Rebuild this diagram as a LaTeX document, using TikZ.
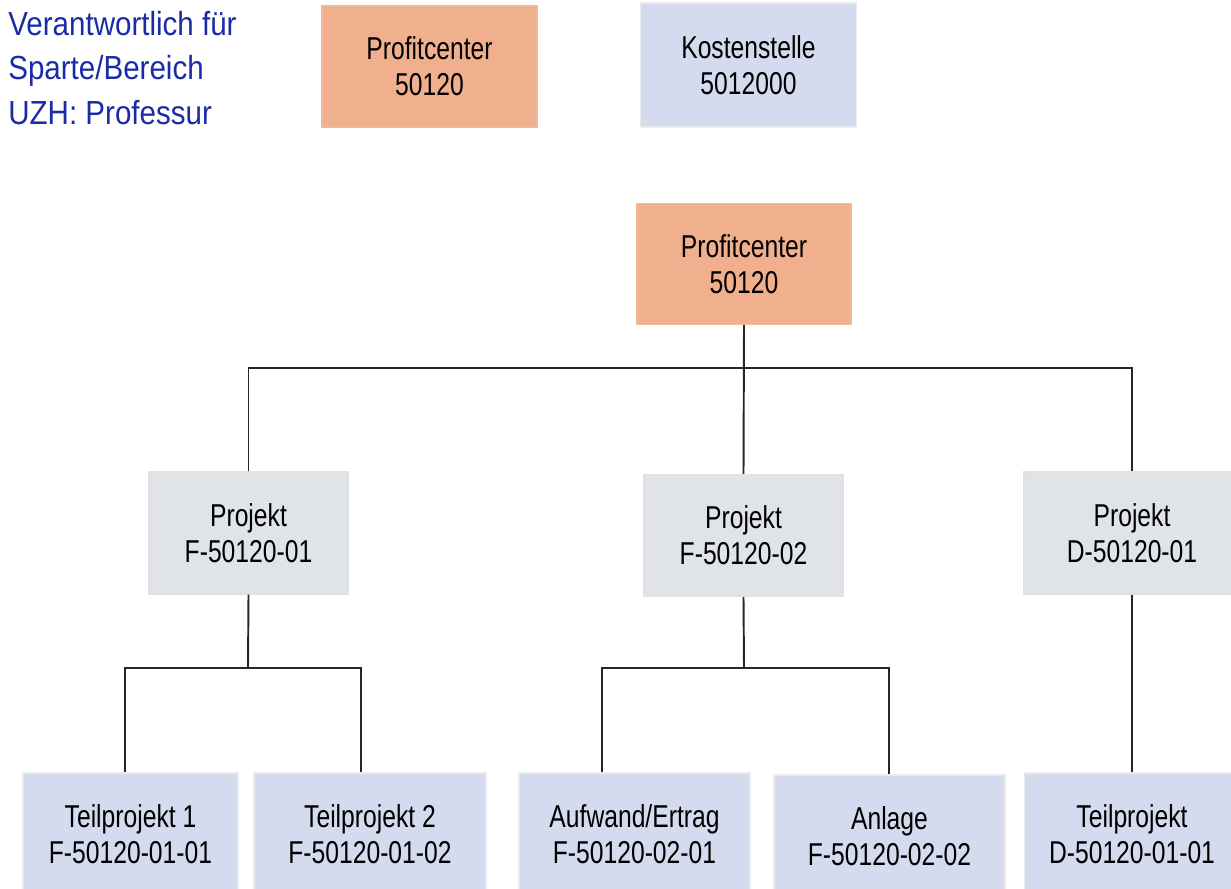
\documentclass[tikz,border=0pt]{standalone}
\usepackage{fontspec}
\setmainfont{Liberation Sans}
\newfontfamily\boxfont[FakeStretch=0.78]{Liberation Sans}
\newfontfamily\notefont[FakeStretch=0.885]{Liberation Sans}
\usepackage{tikz}

\definecolor{pcorange}{HTML}{F0AF8D}
\definecolor{kstblue}{HTML}{D5DBEE}
\definecolor{projgray}{HTML}{E0E3E8}
\definecolor{noteblue}{HTML}{1A2BA6}

\tikzset{
	box/.style={shape=rectangle, draw=black!8, line width=0.8pt, inner sep=0pt,
		minimum height=2.44cm, align=center,
		font=\boxfont\fontsize{18pt}{20.6pt}\selectfont},
	pcbox/.style={box, fill=pcorange, draw=pcorange!90!white},
	kstbox/.style={box, fill=kstblue},
	projbox/.style={box, fill=projgray, draw=black!12},
	link/.style={draw=black!85, line width=1.1pt}
}

\begin{document}
\begin{tikzpicture}[x=0.02cm, y=-0.02cm]
	\useasboundingbox (0,0) rectangle (1231,889);
	\clip (0,0) rectangle (1231,889);

	% legend
	\node[anchor=west, inner sep=0pt, align=left, text=noteblue,
		font=\notefont\fontsize{19pt}{25.5pt}\selectfont] (note) at (8,68)
		{Verantwortlich für\\Sparte/Bereich\\UZH: Professur};
	\node[pcbox, minimum width=4.3cm, minimum height=2.42cm] (pctop) at (429.5,66.5) {Profitcenter\\50120};
	\node[kstbox, minimum width=4.32cm, minimum height=2.48cm] (kst) at (748.5,65) {Kostenstelle\\5012000};

	% hierarchy
	\node[pcbox, minimum width=4.28cm, minimum height=2.42cm] (pc) at (744,264) {Profitcenter\\50120};

	\node[projbox, minimum width=3.98cm] (p1) at (248.5,533)   {Projekt\\F-50120-01};
	\node[projbox, minimum width=3.98cm] (p2) at (743.5,535.5) {Projekt\\F-50120-02};
	\node[projbox, minimum width=4.32cm] (p3) at (1132,533)    {Projekt\\D-50120-01};

	\node[kstbox, minimum width=4.3cm]  (t1) at (130.5,834) {Teilprojekt 1\\F-50120-01-01};
	\node[kstbox, minimum width=4.64cm] (t2) at (370,834)   {Teilprojekt 2\\F-50120-01-02};
	\node[kstbox, minimum width=4.62cm] (t3) at (634.5,834) {Aufwand/Ertrag\\F-50120-02-01};
	\node[kstbox, minimum width=4.62cm] (t4) at (889.5,836) {Anlage\\F-50120-02-02};
	\node[kstbox, minimum width=4.3cm]  (t5) at (1132,834)  {Teilprojekt\\D-50120-01-01};

	\coordinate (j0) at (744,368);
	\coordinate (j1) at (248,668);
	\coordinate (a1) at (125,668);
	\coordinate (a2) at (361,668);
	\coordinate (j2) at (744,668);
	\coordinate (b1) at (602,668);
	\coordinate (b2) at (889,668);

	\path[link] (pc.south) -- (p2.north);
	\path[link] (p1.north) |- (j0) -| (p3.north);

	\path[link] (p1.south) -- (j1);
	\path[link] (a1 |- t1.north) -- (a1) -- (a2) -- (a2 |- t2.north);

	\path[link] (p2.south) -- (j2);
	\path[link] (b1 |- t3.north) -- (b1) -- (b2) -- (b2 |- t4.north);

	\path[link] (p3.south) -- (t5.north);
\end{tikzpicture}
\end{document}
